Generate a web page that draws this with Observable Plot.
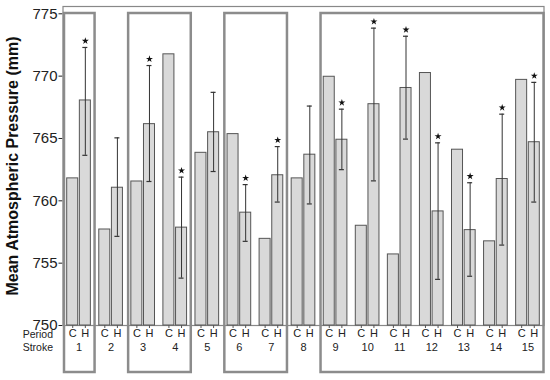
<!DOCTYPE html>
<html><head><meta charset="utf-8">
<script src="https://cdn.jsdelivr.net/npm/d3@7"></script>
<script src="https://cdn.jsdelivr.net/npm/@observablehq/plot@0.6"></script>
<style>
html,body{margin:0;padding:0;background:#fff;}
#chart svg g[aria-label^="y-axis"] text{font-size:15px;fill:#222;}
</style></head><body><div id="chart"></div>
<script>
// ---- data ----
const strokes = [1,2,3,4,5,6,7,8,9,10,11,12,13,14,15];
const periods = ["C","H"];
const controlMean = [761.8,757.7,761.55,771.75,763.85,765.35,756.95,761.8,769.95,758.0,755.7,770.25,764.1,756.75,769.7];
const hotMean     = [768.05,761.05,766.15,757.85,765.5,759.05,762.05,763.7,764.9,767.75,769.05,759.15,757.65,761.75,764.7];
const hotLow      = [763.65,757.15,761.55,753.8,762.35,756.75,759.9,759.75,762.5,761.6,764.95,753.7,753.95,756.45,759.9];
const hotHigh     = [772.3,765.05,770.85,761.9,768.7,761.3,764.35,767.6,767.35,773.85,773.2,764.65,761.45,766.95,769.5];
const significant = [1,0,1,1,0,1,1,0,1,1,1,1,1,1,1];
const boxStart = [1,3,6,9];
const boxEnd   = [1,4,7,15];
const yTicks = [750,755,760,765,770,775];
const yLabel = "Mean Atmospheric Pressure (mm)";
const rowLabels = ["Period","Stroke"];

// ---- tables built from the arrays ----
const barsC = strokes.map((s,i)=>({stroke:s, period:periods[0], value:controlMean[i]}));
const barsH = strokes.map((s,i)=>({stroke:s, period:periods[1], value:hotMean[i]}));
const errs = strokes.map((s,i)=>({stroke:s, lo:hotLow[i], hi:hotHigh[i], sig:significant[i]}));
const boxes = boxStart.map((s,i)=>({from:s, to:boxEnd[i]}));
const base = yTicks[0];

const off = 6.3;   // px offset of each bar centre from the group centre
const barFill = "#d9d9d9", barStroke = "#555", errColor = "#333", boxColor = "#8c8c8c";

const chart = Plot.plot({
  width: 550, height: 380,
  marginLeft: 62.5, marginRight: 6.5, marginTop: 6, marginBottom: 55,
  style: {fontFamily: "'Liberation Sans', Arial, sans-serif", fontSize: "11px", color: "#222", background: "#fff", overflow: "visible"},
  x: {domain: [0.5, 15.5], axis: null},
  y: {domain: [yTicks[0], yTicks[yTicks.length-1]], range: [325, 13.3], ticks: yTicks, tickSize: 4, tickPadding: 1.5, label: null, tickFormat: d => String(d)},
  marks: [
    // group boxes
    Plot.rect(boxes, {x1: d => d.from - 0.5, x2: d => d.to + 0.5, insetLeft: 1.5, insetRight: 0, insetTop: 7, insetBottom: -47,
      fill: "none", stroke: boxColor, strokeWidth: 2.5}),
    Plot.frame({stroke: "#888", strokeWidth: 1.2}),
    // bars
    Plot.rect(barsC, {x1: d => d.stroke - 0.5, x2: d => d.stroke + 0.5, y1: () => base, y2: "value",
      insetLeft: 4.2, insetRight: 16.85, fill: barFill, stroke: barStroke, strokeWidth: 1}),
    Plot.rect(barsH, {x1: d => d.stroke - 0.5, x2: d => d.stroke + 0.5, y1: () => base, y2: "value",
      insetLeft: 16.85, insetRight: 4.2, fill: barFill, stroke: barStroke, strokeWidth: 1}),
    // error bars on H
    Plot.ruleX(errs, {x: "stroke", y1: "lo", y2: "hi", dx: off, stroke: errColor, strokeWidth: 1}),
    Plot.ruleY(errs, {x1: "stroke", x2: "stroke", y: "hi", dx: off, insetLeft: -2.5, insetRight: -2.5, stroke: errColor, strokeWidth: 1.2}),
    Plot.ruleY(errs, {x1: "stroke", x2: "stroke", y: "lo", dx: off, insetLeft: -2.5, insetRight: -2.5, stroke: errColor, strokeWidth: 1.2}),
    Plot.dot(errs.filter(d => d.sig), {x: "stroke", y: "hi", dx: off, dy: -6.5, symbol: "star", r: 2.2, fill: "#111", stroke: "none"}),
    // small ticks under bars
    Plot.ruleX(barsC, {x: "stroke", y1: () => base, y2: () => base, dx: -off, insetBottom: -3, stroke: "#555"}),
    Plot.ruleX(barsH, {x: "stroke", y1: () => base, y2: () => base, dx: off, insetBottom: -3, stroke: "#555"}),
    // x labels
    Plot.text(barsC, {x: "stroke", text: "period", dx: -off, frameAnchor: "bottom", dy: 11.5, fontSize: 11, fill: "#222"}),
    Plot.text(barsH, {x: "stroke", text: "period", dx: off, frameAnchor: "bottom", dy: 11.5, fontSize: 11, fill: "#222"}),
    Plot.text(strokes, {x: d => d, text: d => String(d), frameAnchor: "bottom", dy: 25.5, fontSize: 11, fill: "#222"}),
    Plot.text([rowLabels[0]], {text: d => d, frameAnchor: "bottom-left", textAnchor: "end", dx: -10, dy: 12, fontSize: 10.5, fill: "#222"}),
    Plot.text([rowLabels[1]], {text: d => d, frameAnchor: "bottom-left", textAnchor: "end", dx: -10, dy: 25.5, fontSize: 10.5, fill: "#222"}),
    // y label
    Plot.text([yLabel], {text: d => d, frameAnchor: "left", textAnchor: "middle", rotate: -90, dx: -50.5, fontWeight: "bold", fontSize: 16, fill: "#111"})
  ]
});
document.getElementById("chart").appendChild(chart);
</script></body></html>
